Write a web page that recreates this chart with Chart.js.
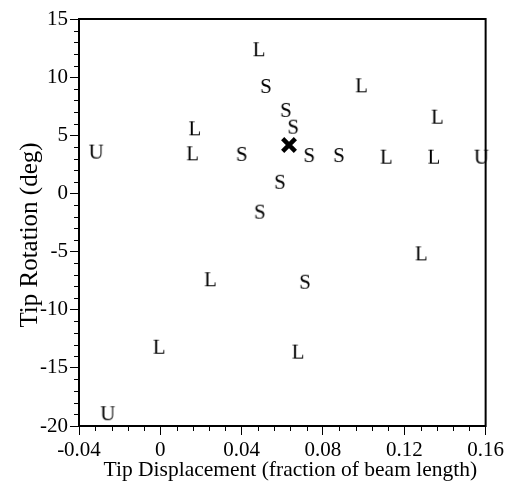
<!DOCTYPE html>
<html>
<head>
<meta charset="utf-8">
<script src="https://cdn.jsdelivr.net/npm/chart.js@4/dist/chart.umd.min.js"></script>
<style>
  html, body { margin: 0; padding: 0; background: #fff; }
  #wrap { width: 507px; height: 490px; position: relative; }
</style>
</head>
<body>
<div id="wrap"><canvas id="chart"></canvas></div>
<script>
// điểm đo L (long), S (short), U (unstable) và điểm X trung tâm
const lX = [0.0486, 0.099, 0.1363, 0.017, 0.0159, 0.1112, 0.1346, 0.1284, 0.0247, -0.0005, 0.0678];
const lY = [12.4, 9.3, 6.6, 5.6, 3.45, 3.16, 3.16, -5.15, -7.38, -13.18, -13.6];
const sX = [0.0519, 0.0617, 0.0653, 0.040, 0.0732, 0.0878, 0.0588, 0.0489, 0.0711];
const sY = [9.24, 7.18, 5.74, 3.4, 3.3, 3.3, 1.0, -1.57, -7.59];
const uX = [-0.0316, 0.1579, -0.0259];
const uY = [3.6, 3.16, -18.9];
const xX = [0.0633];
const xY = [4.17];

const xTicks = [-0.04, 0, 0.04, 0.08, 0.12, 0.16];
const yTicks = [-20, -15, -10, -5, 0, 5, 10, 15];

const serif = "'Liberation Serif', 'DejaVu Serif', serif";

function letterStyle(ch) {
    const c = document.createElement("canvas");
    c.width = 26;
    c.height = 26;
    const g = c.getContext("2d");
    g.fillStyle = "#000";
    g.font = "21px " + serif;
    g.textAlign = "center";
    g.textBaseline = "alphabetic";
    g.fillText(ch, 13, 13 + 7);
    return c;
}

function pts(xs, ys) {
    return xs.map((v, i) => ({ x: v, y: ys[i] }));
}

// vẽ vạch phụ và khung
const frame = {
    id: "frame",
    afterDraw(chart) {
        const ctx = chart.ctx;
        const a = chart.chartArea;
        const sx = chart.scales.x;
        const sy = chart.scales.y;
        ctx.save();
        ctx.strokeStyle = "#000";
        ctx.lineWidth = 1;
        ctx.beginPath();
        for (let i = 0; i <= 25; i++) {
            if (i % 5 === 0) continue;
            const px = Math.round(sx.getPixelForValue(-0.04 + i * 0.008)) + 0.5;
            ctx.moveTo(px, a.bottom);
            ctx.lineTo(px, a.bottom + 5);
        }
        for (let v = -20; v <= 15; v++) {
            if (v % 5 === 0) continue;
            const py = Math.round(sy.getPixelForValue(v)) + 0.5;
            ctx.moveTo(a.left - 5, py);
            ctx.lineTo(a.left, py);
        }
        ctx.stroke();
        ctx.lineWidth = 2;
        ctx.strokeRect(a.left, a.top, a.right - a.left, a.bottom - a.top);
        ctx.restore();
    }
};

const ctx = document.getElementById("chart").getContext("2d");
new Chart(ctx, {
    type: "scatter",
    data: {
        datasets: [
            { label: "L", data: pts(lX, lY), pointStyle: letterStyle("L") },
            { label: "S", data: pts(sX, sY), pointStyle: letterStyle("S") },
            { label: "U", data: pts(uX, uY), pointStyle: letterStyle("U") },
            {
                label: "X", data: pts(xX, xY), pointStyle: "crossRot",
                pointRadius: 9, borderColor: "#000", borderWidth: 4.5
            }
        ]
    },
    options: {
        responsive: true,
        maintainAspectRatio: false,
        animation: false,
        clip: false,
        layout: { padding: { left: 15, right: 21, top: 19, bottom: 7 } },
        plugins: { legend: { display: false }, tooltip: { enabled: false } },
        scales: {
            x: {
                type: "linear",
                min: -0.04,
                max: 0.16,
                afterBuildTicks: (s) => { s.ticks = xTicks.map(v => ({ value: v })); },
                afterFit: (s) => { s.height = 57; },
                grid: { drawOnChartArea: false, drawTicks: true, tickLength: 9, color: "#000" },
                border: { color: "#000", width: 2 },
                ticks: {
                    color: "#000",
                    padding: 3,
                    maxRotation: 0,
                    font: { family: serif, size: 21 },
                    callback: (v) => String(parseFloat(Number(v).toFixed(2)))
                },
                title: {
                    display: true,
                    text: "   Tip Displacement (fraction of beam length)",
                    color: "#000",
                    padding: 0,
                    font: { family: serif, size: 21.5 }
                }
            },
            y: {
                type: "linear",
                min: -20,
                max: 15,
                afterBuildTicks: (s) => { s.ticks = yTicks.map(v => ({ value: v })); },
                afterFit: (s) => { s.width = 64; },
                grid: { drawOnChartArea: false, drawTicks: true, tickLength: 9, color: "#000" },
                border: { color: "#000", width: 2 },
                ticks: {
                    color: "#000",
                    padding: 2,
                    font: { family: serif, size: 21 },
                    callback: (v) => String(v)
                },
                title: {
                    display: true,
                    text: "Tip Rotation (deg)    ",
                    color: "#000",
                    padding: 0,
                    font: { family: serif, size: 25 }
                }
            }
        }
    },
    plugins: [frame]
});
</script>
</body>
</html>
